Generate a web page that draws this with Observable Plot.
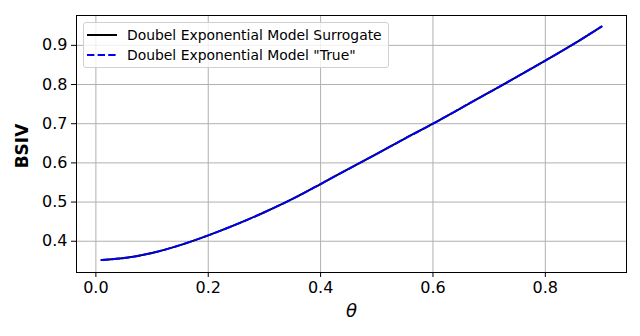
<!DOCTYPE html>
<html>
<head>
<meta charset="utf-8">
<script src="https://cdn.jsdelivr.net/npm/d3@7"></script>
<script src="https://cdn.jsdelivr.net/npm/@observablehq/plot@0.6"></script>
<style>
  html, body { margin: 0; padding: 0; background: white; }
  #wrap { position: relative; width: 640px; height: 336px; font-family: "DejaVu Sans", sans-serif; }
  #legend { position: absolute; left: 83px; top: 22px; width: 304px; height: 44px;
    border: 1px solid #d0d0d0; border-radius: 3px; background: rgba(255,255,255,0.8); font-size: 13.9px; color: #000; }
  .row { position: absolute; left: 0; height: 20px; display: flex; align-items: center; }
  .row svg { margin-left: 3px; margin-right: 10px; }
</style>
</head>
<body>
<div id="wrap"></div>
<script>
const theta = [0.01, 0.05, 0.1, 0.15, 0.2, 0.25, 0.3, 0.35, 0.4, 0.45, 0.5, 0.55, 0.6, 0.65, 0.7, 0.75, 0.8, 0.85, 0.9];
const surrogate = [0.352, 0.357, 0.370, 0.390, 0.415, 0.443, 0.474, 0.508, 0.546, 0.585, 0.623, 0.662, 0.700, 0.740, 0.780, 0.820, 0.861, 0.903, 0.948];
const trueModel = [0.352, 0.357, 0.370, 0.390, 0.415, 0.443, 0.474, 0.508, 0.546, 0.585, 0.623, 0.662, 0.700, 0.740, 0.780, 0.820, 0.861, 0.903, 0.948];
const xTicks = [0.0, 0.2, 0.4, 0.6, 0.8];
const yTicks = [0.4, 0.5, 0.6, 0.7, 0.8, 0.9];
const seriesNames = ["Doubel Exponential Model Surrogate", "Doubel Exponential Model \"True\""];

const dataS = theta.map((t, i) => ({t, v: surrogate[i]}));
const dataT = theta.map((t, i) => ({t, v: trueModel[i]}));

const fmt = d3.format(".1f");
const chart = Plot.plot({
  width: 640, height: 336,
  marginLeft: 76, marginRight: 14, marginTop: 15, marginBottom: 64,
  style: {fontFamily: "DejaVu Sans", fontSize: "16px", background: "white", color: "black"},
  x: {domain: [-0.0345, 0.9445]},
  y: {domain: [0.3202, 0.9762]},
  marks: [
    Plot.gridX(xTicks, {stroke: "#b0b0b0", strokeOpacity: 1, strokeWidth: 1}),
    Plot.gridY(yTicks, {stroke: "#b0b0b0", strokeOpacity: 1, strokeWidth: 1}),
    Plot.line(dataS, {x: "t", y: "v", stroke: "black", strokeWidth: 2, curve: "monotone-x"}),
    Plot.line(dataT, {x: "t", y: "v", stroke: "blue", strokeWidth: 2, strokeDasharray: "7.4,3.2", curve: "monotone-x"}),
    Plot.frame({stroke: "black", strokeWidth: 1}),
    Plot.axisX(xTicks, {tickSize: 5, tickPadding: 4, tickFormat: fmt, label: null, fontSize: 16}),
    Plot.axisY(yTicks, {tickSize: 5, tickPadding: 4, tickFormat: fmt, label: null, fontSize: 16}),
    Plot.text(["θ"], {frameAnchor: "bottom", dy: 39, lineAnchor: "middle", textAnchor: "middle", fontStyle: "italic", fontSize: 18}),
    Plot.text(["BSIV"], {frameAnchor: "left", dx: -54, dy: 2, rotate: -90, textAnchor: "middle", lineAnchor: "middle", fontWeight: "bold", fontSize: 17})
  ]
});
const wrap = document.getElementById("wrap");
wrap.appendChild(chart);

const legend = document.createElement("div");
legend.id = "legend";
const styles = [{stroke: "black", dash: null, top: 2}, {stroke: "blue", dash: "7.4,3.2", top: 22}];
seriesNames.forEach((name, i) => {
  const row = document.createElement("div");
  row.className = "row";
  row.style.top = styles[i].top + "px";
  row.innerHTML = `<svg width="30" height="6"><line x1="0" y1="3" x2="30" y2="3" stroke="${styles[i].stroke}" stroke-width="2" ${styles[i].dash ? `stroke-dasharray="${styles[i].dash}"` : ""}/></svg><span></span>`;
  row.querySelector("span").textContent = name;
  legend.appendChild(row);
});
wrap.appendChild(legend);
</script>
</body>
</html>
